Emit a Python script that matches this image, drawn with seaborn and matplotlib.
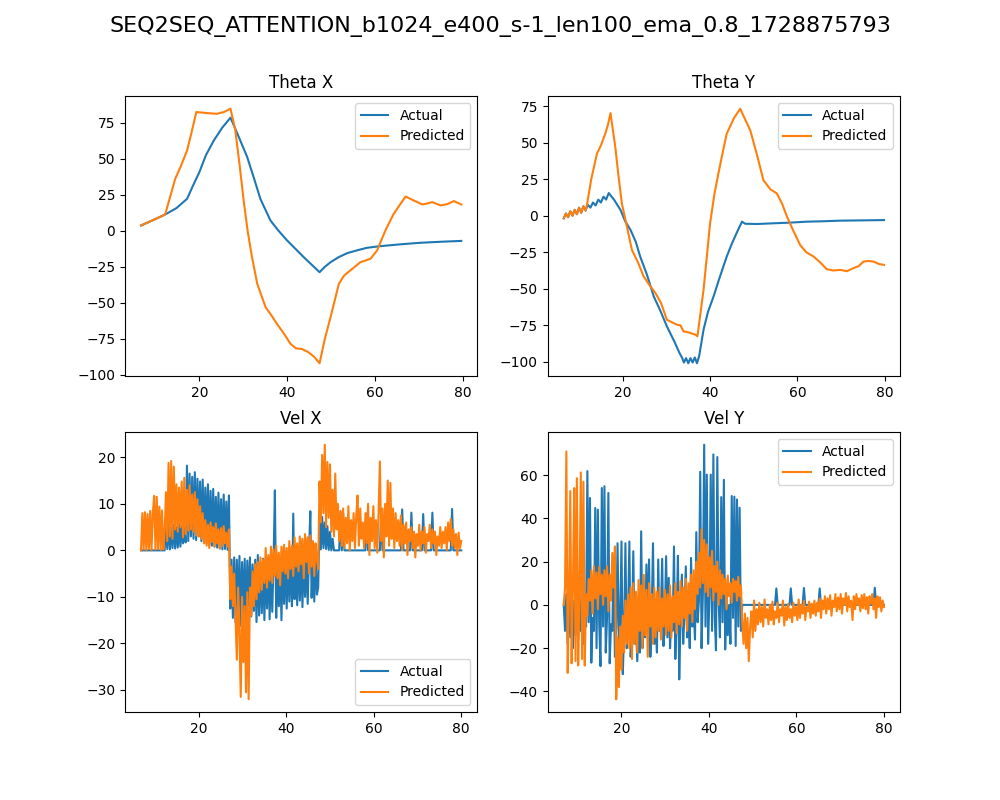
import numpy as np
import matplotlib
matplotlib.use("Agg")
import matplotlib.pyplot as plt
import seaborn as sns

#%% Data
run_name = "SEQ2SEQ_ATTENTION_b1024_e400_s-1_len100_ema_0.8_1728875793"

# Theta X
thx_t_act = [6.7, 9.5, 12.2, 14.8, 17.2, 18.5, 20.0, 21.5, 23.3, 25.2,
             27.1, 29.0, 30.9, 32.5, 33.9, 36.2, 38.0, 40.0, 42.0, 43.8,
             45.6, 47.4, 48.6, 49.9, 51.8, 53.7, 56.0, 58.2, 60.5, 62.8,
             66.5, 70.4, 75.0, 79.7]
thx_act = [3.7, 7.5, 11.3, 15.8, 22.2, 31.0, 40.7, 52.5, 62.7, 71.5,
           78.5, 65.0, 51.2, 36.0, 22.2, 7.2, 0.2, -6.7, -12.8, -18.3,
           -23.5, -28.7, -25.0, -21.8, -18.2, -15.5, -13.5, -11.8, -10.9, -10.2,
           -9.2, -8.3, -7.6, -7.0]
thx_t_pred = [6.7, 9.5, 12.2, 14.5, 15.8, 17.2, 18.2, 19.3, 21.0, 22.5,
              24.0, 25.6, 27.1, 28.2, 29.2, 30.1, 31.0, 32.0, 33.2, 35.1,
              36.5, 37.7, 39.2, 40.8, 42.0, 43.4, 44.9, 46.2, 47.4, 48.6,
              49.9, 51.8, 53.0, 54.4, 56.7, 59.0, 60.5, 62.4, 64.3, 67.0,
              68.9, 70.8, 72.0, 73.1, 75.0, 76.5, 78.0, 79.7]
thx_pred = [3.7, 7.5, 11.3, 36.1, 45.0, 55.8, 68.0, 82.4, 81.9, 81.5,
            81.2, 82.4, 84.7, 69.7, 45.0, 21.0, 0.0, -18.3, -36.8, -53.0,
            -59.0, -64.6, -71.0, -78.5, -81.5, -82.0, -84.3, -87.5, -91.9, -75.0,
            -60.0, -36.8, -31.0, -27.5, -21.8, -19.4, -13.7, 0.2, 11.8, 23.8,
            21.0, 18.3, 19.0, 19.9, 17.6, 18.5, 20.6, 18.3]

# Theta Y
thy_t_act = [6.5, 7.0, 7.5, 8.0, 8.5, 9.0, 9.5, 10.0, 10.5, 11.0,
             11.5, 12.0, 12.6, 13.2, 13.8, 14.4, 15.0, 15.6, 16.2, 16.8,
             17.2, 18.0, 19.5, 20.6, 21.8, 23.0, 24.0, 25.5, 27.1, 28.6,
             30.1, 31.8, 33.0, 33.6, 34.0, 34.5, 35.0, 35.5, 36.0, 36.5,
             37.0, 37.5, 38.5, 39.5, 40.8, 42.0, 43.8, 45.0, 46.2, 47.3,
             48.0, 50.7, 54.5, 58.0, 62.1, 66.0, 69.8, 75.0, 79.8]
thy_act = [-1.8, 1.5, -1.0, 3.0, 0.0, 4.0, 1.0, 5.5, 2.0, 6.5,
           3.5, 7.5, 5.5, 9.0, 7.0, 11.0, 9.0, 13.0, 11.0, 15.5,
           14.0, 11.0, 3.9, -4.0, -9.8, -18.0, -28.0, -40.0, -55.2, -65.0,
           -75.7, -86.0, -94.0, -97.3, -100.5, -97.5, -101.0, -97.5, -100.5, -97.0,
           -101.0, -96.0, -78.0, -66.0, -55.2, -44.0, -28.0, -19.0, -11.0, -4.1,
           -5.5, -5.7, -5.2, -4.8, -4.1, -3.8, -3.4, -3.2, -3.0]
thy_t_pred = [6.5, 7.0, 7.5, 8.0, 8.5, 9.0, 9.5, 10.0, 10.5, 11.0,
              11.5, 11.8, 12.8, 14.1, 15.0, 16.0, 16.6, 17.2, 18.3, 19.0,
              19.8, 21.0, 22.1, 23.5, 24.8, 26.0, 27.5, 28.8, 30.1, 31.3,
              32.4, 33.2, 33.9, 35.2, 36.6, 37.1, 38.5, 40.0, 41.0, 41.9,
              43.0, 43.8, 45.5, 46.9, 48.0, 49.2, 50.7, 52.2, 53.8, 55.3,
              56.5, 57.6, 59.0, 60.6, 62.0, 63.7, 65.2, 66.7, 68.2, 69.8,
              71.3, 72.8, 74.0, 75.1, 76.3, 77.4, 78.6, 79.8]
thy_pred = [-1.8, 1.5, -1.0, 3.0, 0.0, 4.0, 1.0, 5.5, 2.0, 6.5,
            3.5, 7.3, 25.0, 42.5, 48.0, 56.1, 62.0, 70.2, 47.0, 28.0,
            8.4, -8.0, -23.4, -32.0, -41.6, -47.0, -53.0, -60.0, -71.2, -73.0,
            -74.6, -75.0, -79.1, -80.0, -81.4, -82.5, -50.7, -5.2, 15.0, 28.9,
            45.0, 56.1, 67.0, 73.2, 66.0, 58.4, 42.0, 24.3, 18.0, 15.2,
            8.0, -0.7, -10.0, -20.0, -25.0, -28.0, -32.0, -36.6, -37.5, -37.1,
            -38.0, -35.9, -34.5, -31.4, -31.0, -31.4, -33.0, -33.7]

# Velocities, sampled every 0.3 from 6.8 to 80 (one row = 3 time units)
vel_t0, vel_t1 = 6.8, 80.0

velx_act = [
    0, 0, 0, 0, 0, 0, 0, 0, 0, 0,
    0, 0, 0, 0, 0, 0, 0, 0, 0, 5.2,
    0.3, 5.6, 0.2, 4.8, 0.5, 5.5, 0.4, 5.0, 0.6, 5.7,
    0.8, 5.2, 1.5, 4.9, 1.7, 18.2, 2.0, 16.5, 3.0, 15.8,
    2.5, 16.8, 2.2, 15.4, 3.0, 14.8, 2.0, 15.2, 1.8, 13.5,
    1.5, 14.2, 1.2, 12.8, 1.0, 13.2, 0.8, 11.5, 0.6, 12.4,
    0.4, 11.0, 0.2, 12.0, 0.3, 10.5, 0.1, 11.8, -12.5, -2.0,
    -14.5, -1.5, -15.5, -2.0, -12.8, -1.2, -16.2, -2.5, -13.5, -1.8,
    -15.0, -2.2, -12.0, -1.5, -14.2, -3.0, -13.0, -2.0, -15.4, -1.0,
    -14.0, -2.5, -13.5, -1.8, -15.0, -2.0, -12.5, -1.5, -14.8, -2.2,
    -13.2, -2.0, 12.9, -14.5, -1.6, -12.0, -2.0, -15.0, -1.2, -11.5,
    -1.0, -12.5, -0.5, -11.0, -1.2, -12.0, 7.9, -10.5, -0.8, -11.8,
    -0.5, -10.8, -1.0, -12.2, -0.3, -10.0, -0.8, -11.5, -0.4, 8.4,
    -10.2, -0.5, -11.0, -0.3, -9.5, -8.0, 7.8, 0.2, 7.2, 0.5,
    6.0, 0.3, 5.2, 0.1, 4.0, 0.0, 2.5, 0, 0, 0,
    0, 0, 8.2, 0, 8.0, 0, 0, 0, 0, 0,
    0, 0, 0, 0, 0, 0, 0, 0, 0, 0,
    0, 0, 7.9, 0, 0, 0, 0, 0, 0, 0,
    0, 0, 0, 8.6, 0, 0, 0, 0, 0, 0,
    0, 0, 0, 0, 0, 0, 0, 0, 0, 8.8,
    0, 0, 0, 0, 0, 0, 8.1, 0, 0, 0,
    0, 0, 0, 0, 0, 7.8, 0, 0, 0, 0,
    0, 0, 8.1, 0, 0, 0, 0, 0, 0, 0,
    0, 0, 0, 0, 0, 0, 0, 8.9, 0, 0,
    0, 0, 0, 0, 0]
velx_pred = [
    0, 8.0, 0.2, 8.2, 0, 7.8, 0.3, 8.5, 0, 8.0,
    11.7, 0.2, 11.5, 0.3, 9.4, 0.1, 8.6, 0.2, 4.0, 12.5,
    2.0, 18.8, 3.0, 19.2, 2.5, 18.0, 4.5, 14.2, 4.0, 13.5,
    5.0, 14.8, 2.8, 15.6, 3.5, 13.0, 4.2, 14.0, 4.5, 12.0,
    4.0, 12.5, 3.2, 11.0, 3.0, 9.5, 2.5, 8.0, 1.5, 6.5,
    1.0, 5.5, 0.5, 6.0, 1.8, 5.0, 0.8, 5.8, 1.5, 4.5,
    0.4, 4.8, 1.0, 5.2, 1.5, 3.8, 0.8, 4.5, -10.5, -3.5,
    -12.0, -5.0, -14.0, -23.5, -8.0, -18.0, -31.5, -10.0, -24.0, -12.0,
    -30.5, -9.0, -32.0, -8.0, -14.0, -4.5, -12.0, -3.0, -10.5, -2.5,
    -9.0, -1.5, -8.5, -2.0, -7.0, 0.5, -8.0, -1.0, -6.5, 0.8,
    -7.0, 0.2, -5.5, 1.0, -6.0, -0.5, -7.5, 0.8, -4.5, 1.2,
    -5.0, 0.5, -6.0, 2.0, -4.0, 1.0, -5.5, 2.8, -3.5, 1.5,
    -4.5, 3.0, -3.0, 2.5, -6.0, 3.5, -2.5, 2.8, -5.0, 3.2,
    -3.5, 2.0, -5.5, 1.5, -2.0, -4.0, 14.8, 6.0, 20.5, 8.0,
    22.7, 5.0, 19.0, 7.0, 18.5, 4.0, 13.0, 3.0, 16.5, 4.5,
    10.0, 2.0, 8.5, 1.0, 9.0, 0.5, 7.0, 1.5, 9.5, 0.0,
    6.5, 2.0, 8.0, 0.5, 7.5, 11.8, 1.0, 9.0, 2.5, 6.0,
    0.5, 8.0, 1.5, 10.0, -1.0, 7.0, 2.0, 9.5, 0.5, 6.5,
    -0.5, 8.0, 19.1, 2.0, 9.0, -1.5, 10.0, 3.0, 15.0, 1.0,
    14.5, 2.5, 9.0, 0.5, 8.0, 2.0, 6.5, 1.0, 7.5, 0.0,
    5.5, 1.5, 6.0, -1.0, 4.5, 2.0, 5.0, 0.5, 4.0, -1.5,
    3.5, 1.0, 5.5, 0.0, 4.0, 1.5, 5.0, -0.5, 3.5, 2.0,
    5.5, 0.5, 4.5, 1.5, 4.0, -1.0, 3.0, 1.0, 5.0, 0.5,
    4.0, 1.5, 5.0, 0.0, 6.0, 2.0, 6.7, 1.0, 4.5, 0.5,
    3.5, -1.0, 3.8, 0.5, 2.0]

vely_act = [
    0, -12, 5, -18, 3, -15, 6, -20, 2, -14,
    4, -16, 5, -12, 3, -18, 2, -10, 61.8, -8,
    49.4, -26.7, -6.0, -12.0, 44.8, -20.0, 44.0, -8.0, -28.3, 54.0,
    -10.0, 54.8, -22.0, -6.0, 51.7, -27.0, -9.0, -12.0, 22.4, -24.0,
    -10.0, 28.5, -18.0, -8.0, 29.3, -32.0, -12.0, 28.5, -20.0, -6.0,
    29.3, -24.0, -10.0, 24.8, -18.0, -8.0, -26.0, -12.0, -22.0, 34.0,
    -20.0, -6.0, -15.0, 18.7, -10.0, 21.0, -24.0, -5.0, 28.5, -18.0,
    -8.0, -22.0, 21.0, -12.0, -4.0, 21.3, -19.0, -6.0, 22.5, -15.0,
    12.5, -20.0, -5.0, -12.0, 27.0, -25.0, -8.0, 22.7, -34.4, -6.0,
    14.0, -18.0, -4.0, 17.8, -15.0, -3.0, -20.0, 21.7, -10.0, -2.0,
    -16.0, 33.6, -8.0, 2.0, 61.5, -20.0, 5.0, 74.0, -10.0, 60.2,
    -18.0, 4.0, 60.2, -12.0, 69.5, -5.0, -21.0, 68.3, 2.0, -15.0,
    49.8, -8.0, 57.8, -20.6, 3.0, -14.0, 0.0, -18.0, 50.3, -6.0,
    50.0, -19.0, 48.7, -10.0, 44.9, -12.0, 0, 0, 0, 0,
    0, 0, 0, 0, 0, 0, 0, 0, 0, 0,
    0, 0, 0, 0, 0, 0, 0, 0, 0, 0,
    0, 0, 7.6, 0, 0, 0, 0, 0, 0, 0,
    0, 0, 0, 7.6, 0, 0, 0, 0, 0, 0,
    0, 0, 0, 7.8, 0, 0, 0, 0, 0, 0,
    0, 0, 0, 0, 0, 7.6, 0, 0, 0, 0,
    0, 0, 0, 0, 0, 0, 0, 0, 0, 0,
    0, 0, 0, 0, 0, 0, 0, 0, 0, 0,
    0, 0, 0, 0, 0, 0, 0, 0, 0, 0,
    0, 0, 0, 0, 0, 0, 0, 7.9, 0, 0,
    0, 0, 0, 0, 0]
vely_pred = [
    0.0, 8.0, 70.9, -31.4, 5.0, 52.6, -27.0, 8.0, 54.0, -26.0,
    58.5, -28.0, 6.0, 61.2, -25.0, 56.9, -28.0, 5.0, -5.0, 12.0,
    2.0, 16.0, -4.0, 18.0, 3.0, 15.0, -2.0, 17.5, 5.0, 14.0,
    0.0, 16.0, 4.0, 17.8, -3.0, 14.0, 2.0, 24.0, 8.0, 27.0,
    -43.6, -15.0, -38.0, -10.0, -30.0, -5.0, -22.0, 2.0, -18.0, 5.0,
    -20.0, 8.0, -25.0, 10.0, -18.0, 6.0, -22.0, 11.5, -12.0, 9.0,
    -20.0, 13.9, -14.0, 7.0, -24.0, 10.0, -10.0, 5.0, -18.0, 8.0,
    -15.0, 6.0, -12.0, 8.0, -16.0, 3.0, -10.0, 7.0, -14.0, 5.0,
    -12.0, 9.0, -15.0, 4.0, -8.0, 10.0, -13.0, 6.0, -9.0, 11.0,
    -10.0, 8.0, -6.0, 12.0, -12.0, 10.0, -4.0, 14.0, -8.0, 16.0,
    -2.0, 20.0, 5.0, 24.0, 8.0, 35.0, 10.0, 30.0, 6.0, 28.0,
    4.0, 22.0, 8.0, 25.0, 2.0, 18.0, 6.0, 20.0, 0.0, 16.0,
    3.0, 14.0, 5.0, 12.0, -2.0, 13.6, 4.0, 10.0, 1.0, 12.0,
    6.0, 11.0, 2.0, 13.0, 4.0, 9.0, -8.0, -18.0, -4.0, -20.0,
    -6.0, -26.0, -10.0, -3.0, -15.0, 2.0, -12.0, -2.0, -9.0, 1.0,
    -8.0, -1.0, -10.0, 2.5, -6.0, -2.0, -9.0, 0.0, -7.0, 1.5,
    -9.0, -3.0, -6.0, 1.0, -8.0, -2.0, -5.0, 2.0, -9.5, -1.0,
    -7.0, 0.5, -6.0, -2.0, -8.0, 1.0, -5.0, -1.0, -7.0, 2.5,
    -6.0, 0.0, -4.0, 2.0, -7.0, -1.0, -3.0, 1.5, -6.0, 0.5,
    -4.0, 2.0, -5.0, 1.0, -3.0, 3.0, -6.0, 2.0, -2.0, 4.0,
    -4.0, 3.0, -2.0, 4.5, -5.0, 2.0, -1.0, 5.0, -3.0, 3.5,
    -2.0, 5.0, -4.0, 3.0, 0.0, 5.5, -3.0, 4.0, -1.0, 2.0,
    -7.0, 4.0, -2.0, 5.0, 0.0, 3.0, -3.0, 4.5, -1.5, 5.0,
    -2.0, 3.5, -4.0, 4.0, 0.5, 5.0, -2.0, 3.0, -6.0, 4.0,
    -1.0, 3.5, -3.0, 2.0, -1.0]

#%% Plot
blue, orange = "#1f77b4", "#ff7f0e"

fig, axs = plt.subplots(2, 2, figsize=(10, 8))   # 1000x800 at dpi 100
axs = axs.ravel()

panels = [
    ("Theta X", thx_t_act, thx_act, thx_t_pred, thx_pred, "upper right"),
    ("Theta Y", thy_t_act, thy_act, thy_t_pred, thy_pred, "upper right"),
    ("Vel X", None, velx_act, None, velx_pred, "lower right"),
    ("Vel Y", None, vely_act, None, vely_pred, "upper right"),
]

for ax, (title, ta, ya, tp, yp, loc) in zip(axs, panels):
    if ta is None:   # velocity rows share one even time grid
        ta = np.linspace(vel_t0, vel_t1, len(ya))
        tp = np.linspace(vel_t0, vel_t1, len(yp))
    sns.lineplot(x=ta, y=ya, ax=ax, color=blue, label="Actual")
    sns.lineplot(x=tp, y=yp, ax=ax, color=orange, label="Predicted")
    ax.set_title(title)
    ax.set_xticks([20, 40, 60, 80])
    ax.legend(loc=loc)

fig.suptitle(run_name, fontsize=16)
fig.savefig("out.png", dpi=100)
